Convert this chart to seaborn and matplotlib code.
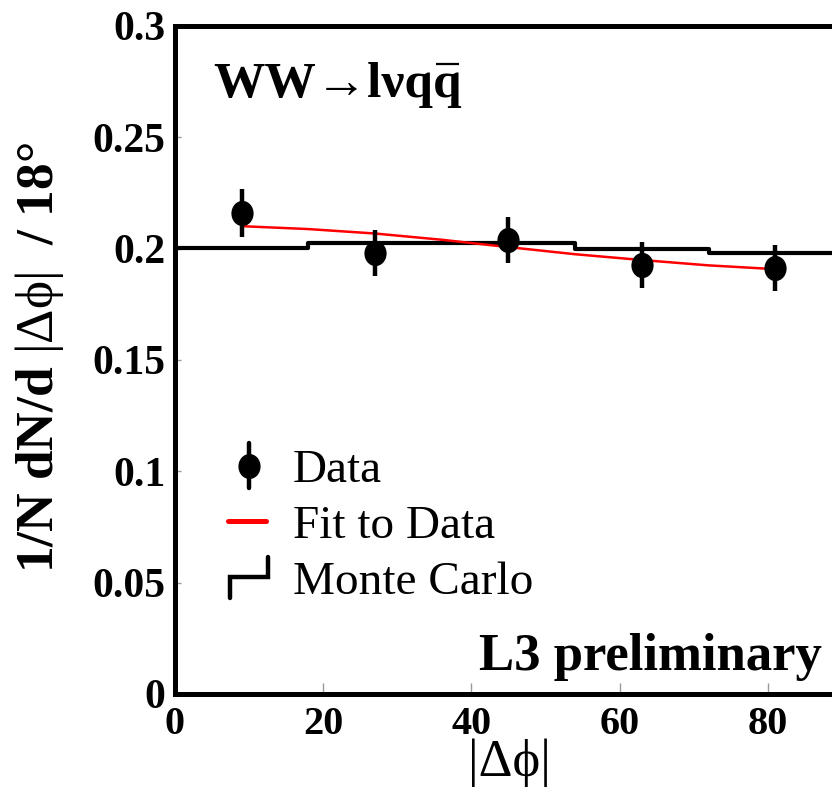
import numpy as np
import matplotlib
matplotlib.use("Agg")
import matplotlib.pyplot as plt
import seaborn as sns
import pandas as pd
from matplotlib.path import Path
from matplotlib.lines import Line2D
from matplotlib.legend_handler import HandlerBase

# ---- data ----
data_x = [9, 27, 45, 63, 81]
data_y = [0.216, 0.198, 0.2039, 0.1926, 0.1913]
data_err = [0.0107, 0.0103, 0.0105, 0.0103, 0.0105]

mc_edges = [0, 18, 36, 54, 72, 90]
mc_centers = [9, 27, 45, 63, 81]
mc_y = [0.2003, 0.2025, 0.2025, 0.1998, 0.1980]

fit_x = [9, 18, 27, 36, 45, 54, 63, 72, 81]
fit_y = [0.2101, 0.2088, 0.2068, 0.2040, 0.2007, 0.1975, 0.1949, 0.1925, 0.1908]

x_ticks = [0, 20, 40, 60, 80]
y_ticks = [0, 0.05, 0.1, 0.15, 0.2, 0.25, 0.3]
y_ticklabels = ["0", "0.05", "0.1", "0.15", "0.2", "0.25", "0.3"]

sns.set_theme(style="white")
plt.rcParams["font.family"] = ["Liberation Serif", "DejaVu Serif"]
plt.rcParams["text.color"] = "black"
plt.rcParams["axes.labelcolor"] = "black"
plt.rcParams["mathtext.fontset"] = "custom"
plt.rcParams["mathtext.rm"] = "Liberation Serif"
plt.rcParams["mathtext.it"] = "Liberation Serif:italic"
plt.rcParams["mathtext.bf"] = "Liberation Serif:bold"

W, H = 832, 791
fig = plt.figure(figsize=(W / 100, H / 100), dpi=100)
left, bottom, top = 175, 694, 26
x_right = 175 + 90 * 7.41
ax = fig.add_axes([left / W, 1 - bottom / H, (x_right - left) / W, (bottom - top) / H])

# ellipse marker
circ = Path.unit_circle()
ell = Path(circ.vertices * np.array([0.88, 1.0]), circ.codes)

# MC histogram
mc_df = pd.DataFrame({"x": mc_centers, "w": mc_y})
sns.histplot(data=mc_df, x="x", weights="w", bins=mc_edges, element="step",
             fill=False, color="black", linewidth=3.0, ax=ax)

# fit line
fit_df = pd.DataFrame({"x": fit_x, "y": fit_y})
sns.lineplot(data=fit_df, x="x", y="y", color="red", linewidth=1.8, ax=ax, zorder=4)

# data
ax.errorbar(data_x, data_y, yerr=data_err, fmt="none", ecolor="black",
            elinewidth=3.2, capsize=0, zorder=5)
dat_df = pd.DataFrame({"x": data_x, "y": data_y})
sns.scatterplot(data=dat_df, x="x", y="y", marker=ell, s=330, color="black",
                edgecolor="black", linewidth=0, ax=ax, zorder=6)

ax.set_xlim(0, 90)
ax.set_ylim(0, 0.3)
ax.set_xlabel("")
ax.set_ylabel("")

ax.set_xticks(x_ticks)
ax.set_xticklabels([str(v) for v in x_ticks], fontsize=29, fontweight="bold")
ax.set_yticks(y_ticks)
ax.set_yticklabels(y_ticklabels, fontsize=30, fontweight="bold")
ax.tick_params(axis="x", direction="in", length=8, width=1, color="#999999", pad=9,
               bottom=True, top=False, labelcolor="black")
ax.tick_params(axis="y", direction="in", length=4, width=1, color="#999999", pad=7,
               left=True, right=False, labelcolor="black")
for sp in ["left", "bottom", "top", "right"]:
    ax.spines[sp].set_linewidth(3.6)
    ax.spines[sp].set_color("black")

# legend handlers
class DataHandler(HandlerBase):
    def create_artists(self, legend, orig_handle, xdescent, ydescent, width, height, fontsize, trans):
        cx = -xdescent + width * 0.5
        cy = -ydescent + height * 0.5
        bar = Line2D([cx, cx], [cy - 0.68 * height, cy + 0.68 * height], color="black",
                     lw=3.2, transform=trans)
        mk = Line2D([cx], [cy], marker=ell, markersize=17, color="black", ls="none",
                    transform=trans)
        return [bar, mk]

class FitHandler(HandlerBase):
    def create_artists(self, legend, orig_handle, xdescent, ydescent, width, height, fontsize, trans):
        cy = -ydescent + height * 0.5
        ln = Line2D([-xdescent, -xdescent + width * 0.92], [cy, cy], color="red", lw=3.6,
                    transform=trans)
        return [ln]

class MCHandler(HandlerBase):
    def create_artists(self, legend, orig_handle, xdescent, ydescent, width, height, fontsize, trans):
        x0 = -xdescent
        cy = -ydescent + height * 0.5
        xs = [x0 + 0.04 * width, x0 + 0.04 * width, x0 + 0.96 * width, x0 + 0.96 * width]
        ys = [cy - 0.62 * height, cy, cy, cy + 0.62 * height]
        ln = Line2D(xs, ys, color="black", lw=3.2, solid_joinstyle="miter", transform=trans)
        return [ln]

class HData: pass
class HFit: pass
class HMC: pass

ax.legend([HData(), HFit(), HMC()], ["Data", "Fit to Data", "Monte Carlo"],
          handler_map={HData: DataHandler(), HFit: FitHandler(), HMC: MCHandler()},
          loc="upper left", bbox_to_anchor=((228 - left) / (x_right - left), (bottom - 449) / (bottom - top)),
          borderaxespad=0, borderpad=0, frameon=False, fontsize=34,
          handlelength=0.88, handletextpad=0.5, labelspacing=0.27)

# process label with macron over the last q
tx = (213 - left) / (x_right - left)
ty = (bottom - 97) / (bottom - top)
t_full = ax.text(tx, ty, "WW\u2192l\u03bdqq", transform=ax.transAxes, fontsize=37,
                 fontweight="bold", ha="left", va="baseline")
t_pre = ax.text(tx, ty, "WW\u2192l\u03bdq", transform=ax.transAxes, fontsize=37,
                fontweight="bold", ha="left", va="baseline", alpha=0)
fig.canvas.draw()
r = fig.canvas.get_renderer()
bb_full = t_full.get_window_extent(r)
bb_pre = t_pre.get_window_extent(r)
inv = ax.transAxes.inverted()
(mx0, my), (mx1, _) = inv.transform([[bb_pre.x1 + 3, bb_full.y1 - 2], [bb_full.x1 - 3, bb_full.y1 - 2]])
ax.plot([mx0, mx1], [my, my], transform=ax.transAxes, color="black", lw=1.6,
        solid_capstyle="butt", clip_on=False)
t_pre.remove()

ax.text((822 - left) / (x_right - left), (bottom - 670) / (bottom - top), "L3 preliminary",
        transform=ax.transAxes, fontsize=38, fontweight="bold", ha="right", va="baseline")

fig.text(40 / W, 1 - 358 / H,
         "$\\mathbf{1/N\\ dN/d}\\ |\\mathrm{\u0394\u03d5}|\\ \\ \\mathbf{/\\ 18\\degree}$",
         rotation=90, fontsize=38.5, ha="center", va="center")
fig.text(509 / W, 1 - 763 / H, "|\u0394\u03d5|", fontsize=38, ha="center", va="center")

fig.savefig("out.png", dpi=100)
